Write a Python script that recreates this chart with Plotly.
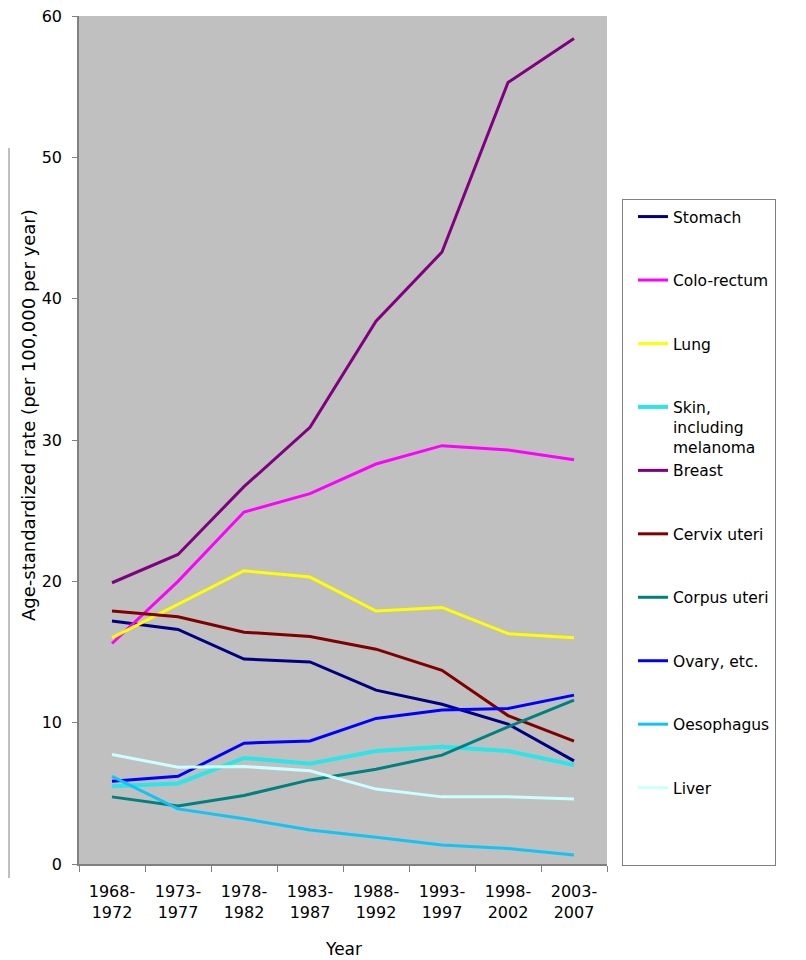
import plotly.graph_objects as go

periods = ["1968-1972", "1973-1977", "1978-1982", "1983-1987",
           "1988-1992", "1993-1997", "1998-2002", "2003-2007"]
tick_labels = [p.replace("-", "-<br>") for p in periods]

series_names = ["Stomach", "Colo-rectum", "Lung", "Skin,<br>including<br>melanoma",
                "Breast", "Cervix uteri", "Corpus uteri", "Ovary, etc.",
                "Oesophagus", "Liver"]

stomach = [17.2, 16.6, 14.5, 14.3, 12.3, 11.3, 9.9, 7.3]
colorectum = [15.6, 20.0, 24.9, 26.2, 28.3, 29.6, 29.3, 28.6]
lung = [16.0, 18.4, 20.75, 20.3, 17.9, 18.15, 16.3, 16.0]
skin = [5.5, 5.7, 7.5, 7.1, 8.0, 8.3, 8.0, 7.0]
breast = [19.9, 21.9, 26.7, 30.9, 38.4, 43.3, 55.3, 58.4]
cervix = [17.9, 17.5, 16.4, 16.1, 15.2, 13.7, 10.5, 8.7]
corpus = [4.75, 4.1, 4.85, 5.95, 6.7, 7.7, 9.7, 11.6]
ovary = [5.85, 6.2, 8.55, 8.7, 10.3, 10.9, 11.0, 11.95]
oesophagus = [6.2, 3.9, 3.2, 2.4, 1.9, 1.35, 1.1, 0.63]
liver = [7.75, 6.85, 6.9, 6.6, 5.3, 4.75, 4.75, 4.6]

values = [stomach, colorectum, lung, skin, breast, cervix, corpus, ovary, oesophagus, liver]
colors = ["#000080", "#FF00FF", "#FFFF00", "#2CE5E8", "#800080",
          "#800000", "#008080", "#0000FF", "#11C4F5", "#CCFFFF"]
widths = [3, 3, 3, 4, 3, 3, 3, 3, 3, 3]

# the page body adds an 8px offset; work in page pixels and subtract it
OFF = 8
W, H = 806 - OFF, 960 - OFF
L, R, T, B = 79 - OFF, 607 - OFF, 16 - OFF, 864 - OFF

fig = go.Figure()
n = len(series_names)
for i, (name, vals, col, w) in enumerate(zip(series_names, values, colors, widths)):
    nlines = name.count("<br>") + 1
    slots = 4 if i == n - 1 else 3
    legend_name = name + "<br> " * (slots - nlines)
    fig.add_trace(go.Scatter(
        x=tick_labels, y=vals, mode="lines", name=legend_name,
        legendgroup=name, line=dict(color=col, width=w),
    ))

def px_x(px):
    return (px - OFF - L) / (R - L)

def px_y(py):
    return (B - (py - OFF)) / (B - T)

fig.update_layout(
    width=W, height=H,
    margin=dict(l=L, r=W - R, t=T, b=H - B, autoexpand=False),
    plot_bgcolor="#C0C0C0", paper_bgcolor="white",
    font=dict(family="DejaVu Sans", color="black"),
    showlegend=True,
    legend=dict(
        xref="container", yref="container",
        x=(622 - OFF) / W, y=1 - (199 - OFF) / H, xanchor="left", yanchor="top",
        bordercolor="#808080", borderwidth=1, bgcolor="white",
        font=dict(family="DejaVu Sans", size=15.5, color="black"),
        valign="top", tracegroupgap=0, indentation=10,
        maxheight=800, entrywidth=124, entrywidthmode="pixels",
    ),
    xaxis=dict(
        type="category", range=[-0.5, 7.5], tickson="boundaries",
        ticks="outside", ticklen=6, tickcolor="#808080",
        showline=True, linecolor="#808080", linewidth=1.5,
        showgrid=False, zeroline=False, automargin=False,
        ticklabelstandoff=12, ticklabeloverflow="allow",
        tickfont=dict(family="DejaVu Sans", size=16, color="black"),
    ),
    yaxis=dict(
        range=[0, 60], dtick=10, tick0=0,
        ticks="outside", ticklen=5, tickcolor="#808080",
        showline=True, linecolor="#808080", linewidth=1.5,
        showgrid=False, zeroline=False, ticklabelstandoff=7, automargin=False,
        ticklabeloverflow="allow",
        tickfont=dict(family="DejaVu Sans", size=16, color="black"),
    ),
    annotations=[
        dict(text="Age-standardized rate (per 100,000 per year)",
             xref="paper", yref="paper", x=px_x(28), y=px_y(415),
             textangle=-90, showarrow=False, xanchor="center", yanchor="middle",
             font=dict(family="DejaVu Sans", size=18, color="black")),
        dict(text="Year", xref="paper", yref="paper", x=0.5, y=px_y(949),
             showarrow=False, xanchor="center", yanchor="middle",
             font=dict(family="DejaVu Sans", size=17, color="black")),
    ],
    shapes=[
        dict(type="line", xref="paper", yref="paper",
             x0=px_x(9), x1=px_x(9), y0=px_y(148), y1=px_y(878),
             line=dict(color="#808080", width=1)),
    ],
)

fig.write_html("out.html")
